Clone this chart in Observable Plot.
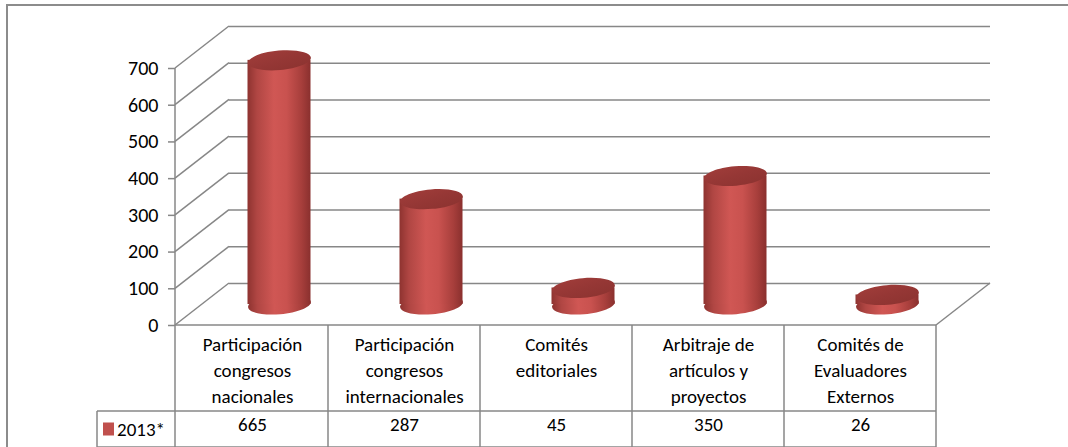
<!DOCTYPE html>
<html><head><meta charset="utf-8">
<script src="https://cdn.jsdelivr.net/npm/d3@7"></script>
<script src="https://cdn.jsdelivr.net/npm/@observablehq/plot@0.6"></script>
<style>
body{margin:0;background:#fff;}
#chart svg{display:block;}
</style></head><body><div id="chart"></div>
<script>
// ---- data ----
const categories = [
  "Participación\ncongresos\nnacionales",
  "Participación\ncongresos\ninternacionales",
  "Comités\neditoriales",
  "Arbitraje de\nartículos y\nproyectos",
  "Comités de\nEvaluadores\nExternos"
];
const values2013 = [665, 287, 45, 350, 26];
const seriesName = "2013*";
const yTicks = [0, 100, 200, 300, 400, 500, 600, 700];

// ---- styling constants ----
const W = 1068, H = 447;
const DEPTH_X = 54, DEPTH_Y = -42;        // back-wall offset (px)
const CYL_DX = DEPTH_X / 2, CYL_DY = DEPTH_Y / 2;
const GRID = "#878787";
const FONT = "Carlito, Lato, sans-serif";
const FS = 19;

const data = categories.map((c, i) => ({cat: c, value: values2013[i]}));

// ellipse symbol (tilted) for cylinder caps
const TILT = -5 * Math.PI / 180;
const ellipseSym = {
  draw(ctx, size) {
    const rx = Math.sqrt(size / Math.PI), ry = rx * 0.31, k = 0.5523;
    const c = Math.cos(TILT), s = Math.sin(TILT);
    const p = (x, y) => [x * c - y * s, x * s + y * c];
    const m = p(rx, 0); ctx.moveTo(m[0], m[1]);
    const segs = [
      [[rx, ry * k], [rx * k, ry], [0, ry]],
      [[-rx * k, ry], [-rx, ry * k], [-rx, 0]],
      [[-rx, -ry * k], [-rx * k, -ry], [0, -ry]],
      [[rx * k, -ry], [rx, -ry * k], [rx, 0]]
    ];
    for (const [a, b, e] of segs) {
      const A = p(...a), B = p(...b), E = p(...e);
      ctx.bezierCurveTo(A[0], A[1], B[0], B[1], E[0], E[1]);
    }
    ctx.closePath();
  }
};

// gradients
function defsMark() {
  const defs = d3.create("svg:defs");
  const body = defs.append("linearGradient").attr("id", "cylBody").attr("x1", "0").attr("x2", "1").attr("y1", "0").attr("y2", "0");
  [[0, "#8e3330"], [0.15, "#b04643"], [0.42, "#d05754"], [0.62, "#c9524f"], [0.85, "#a83f3c"], [1, "#8a302e"]]
    .forEach(([o, c]) => body.append("stop").attr("offset", o).attr("stop-color", c));
  const top = defs.append("linearGradient").attr("id", "cylTop").attr("x1", "0").attr("x2", "1").attr("y1", "0").attr("y2", "1");
  [[0, "#a33e3b"], [0.5, "#953735"], [1, "#8a322f"]]
    .forEach(([o, c]) => top.append("stop").attr("offset", o).attr("stop-color", c));
  return defs.node();
}

// 3D frame, floor and data table, positioned through Plot's scales
function frameMark(...args) {
  const scales = args.find(a => a && typeof a.x === "function" && typeof a.y === "function");
  const dims = args.find(a => a && a.marginLeft !== undefined && a.width !== undefined);
  const {x, y} = scales;
  const ml = dims.marginLeft, mr = dims.width - dims.marginRight;
  const y0 = y(0);
  const bw = x.bandwidth();
  const row1 = y0 + 86, row2 = y0 + 122;
  const legX = ml - 78;
  const g = d3.create("svg:g").attr("fill", "none").attr("stroke", GRID).attr("stroke-width", 1.5);
  // outer chart border
  g.append("path").attr("d", `M7,${dims.height} V5 H${dims.width}`).attr("stroke", "#8c8c8c").attr("stroke-width", 2);
  // side wall diagonals
  for (const t of yTicks) {
    g.append("line").attr("x1", ml).attr("y1", y(t)).attr("x2", ml + DEPTH_X).attr("y2", y(t) + DEPTH_Y);
  }
  // front value axis line
  g.append("line").attr("x1", ml).attr("x2", ml).attr("y1", y(yTicks[yTicks.length - 1])).attr("y2", row2);
  // floor right diagonal
  g.append("line").attr("x1", mr).attr("y1", y0).attr("x2", mr + DEPTH_X).attr("y2", y0 + DEPTH_Y);
  // table horizontals
  g.append("line").attr("x1", ml).attr("x2", mr).attr("y1", y0).attr("y2", y0);
  g.append("line").attr("x1", legX).attr("x2", mr).attr("y1", row1).attr("y2", row1);
  g.append("line").attr("x1", legX).attr("x2", mr).attr("y1", row2).attr("y2", row2);
  // table verticals
  for (const c of categories) {
    const xe = x(c) + bw;
    g.append("line").attr("x1", xe).attr("x2", xe).attr("y1", y0).attr("y2", row2);
  }
  g.append("line").attr("x1", legX).attr("x2", legX).attr("y1", row1).attr("y2", row2);
  // legend key
  g.append("rect").attr("x", legX + 6).attr("y", (row1 + row2) / 2 - 6.5).attr("width", 11).attr("height", 13)
    .attr("fill", "#c0504d").attr("stroke", "none");
  g.append("text").attr("x", legX + 20).attr("y", (row1 + row2) / 2).attr("dy", "0.35em")
    .attr("text-anchor", "start").attr("fill", "#000").attr("stroke", "none").attr("font-size", FS).text(seriesName);
  return g.node();
}

const chart = Plot.plot({
  width: W, height: H,
  marginLeft: 175, marginRight: 132, marginTop: 68, marginBottom: 122,
  style: {fontFamily: FONT, fontSize: FS + "px", color: "#000", background: "#fff"},
  x: {type: "band", domain: categories, padding: 0, axis: null},
  y: {domain: [0, 700], axis: null},
  marks: [
    defsMark,
    // back wall gridlines
    Plot.ruleY(yTicks, {y: d => d, dx: DEPTH_X, dy: DEPTH_Y, stroke: GRID, strokeWidth: 1.5}),
    frameMark,
    Plot.axisY({ticks: yTicks, tickSize: 7, tickPadding: 10, stroke: GRID, strokeWidth: 1.5, fill: "#000", fontSize: 20, label: null, tickFormat: d => String(d)}),
    // cylinders: bottom cap, body, top cap
    Plot.dot(data, {x: "cat", y: () => 0, dx: CYL_DX, dy: CYL_DY, r: 31.5, symbol: ellipseSym, fill: "url(#cylBody)"}),
    Plot.barY(data, {x: "cat", y: "value", dx: CYL_DX, dy: CYL_DY, insetLeft: 44.5, insetRight: 44.5, fill: "url(#cylBody)"}),
    Plot.dot(data, {x: "cat", y: "value", dx: CYL_DX, dy: CYL_DY, r: 31.5, symbol: ellipseSym, fill: "url(#cylTop)"}),
    // table: category labels and values
    Plot.text(data, {x: "cat", text: "cat", frameAnchor: "bottom", lineAnchor: "top", dy: 7, lineHeight: 1.37, fontSize: FS, fill: "#000"}),
    Plot.text(data, {x: "cat", text: d => String(d.value), frameAnchor: "bottom", dy: 105, fontSize: FS, fill: "#000"})
  ]
});
document.getElementById("chart").append(chart);
</script>
</body></html>
